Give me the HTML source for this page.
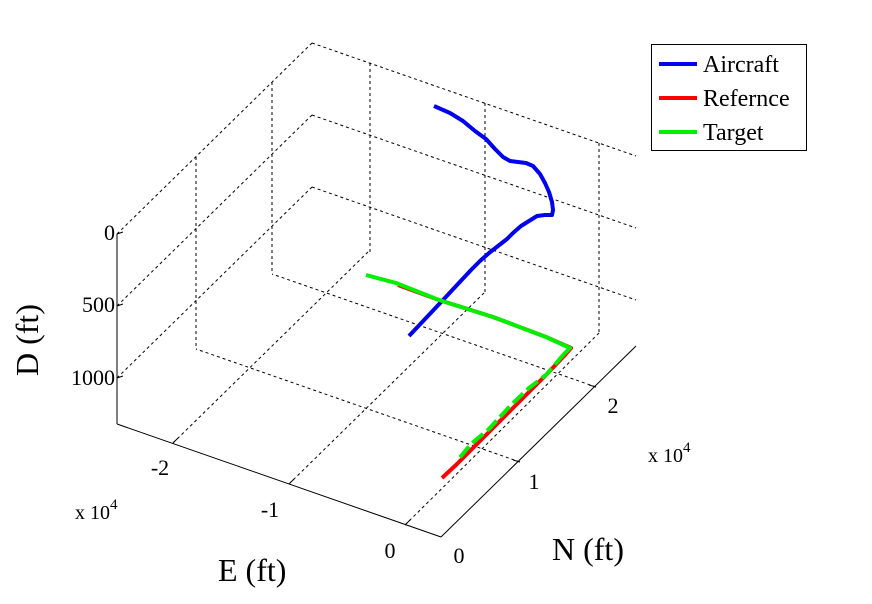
<!DOCTYPE html>
<html><head><style>html,body{margin:0;padding:0;background:#fff}svg{display:block}text{font-family:"Liberation Serif","Times New Roman",serif}</style></head>
<body>
<svg width="872" height="604" viewBox="0 0 872 604" xmlns="http://www.w3.org/2000/svg">
<g stroke="#000" stroke-width="1" stroke-dasharray="3,3" fill="none">
<line x1="117" y1="234" x2="312" y2="43"/>
<line x1="117" y1="306" x2="312" y2="115"/>
<line x1="117" y1="378" x2="312" y2="187"/>
<line x1="312" y1="43" x2="636" y2="156"/>
<line x1="312" y1="115" x2="636" y2="228"/>
<line x1="312" y1="187" x2="636" y2="300"/>
<line x1="196" y1="157" x2="196" y2="347"/>
<line x1="272" y1="82" x2="272" y2="272"/>
<line x1="370" y1="63" x2="370" y2="253"/>
<line x1="485" y1="103" x2="485" y2="293"/>
<line x1="599" y1="143" x2="599" y2="333"/>
<line x1="173" y1="443" x2="368" y2="252"/>
<line x1="289" y1="484" x2="484" y2="293"/>
<line x1="405" y1="525" x2="599" y2="333"/>
<line x1="520" y1="462" x2="196" y2="349"/>
<line x1="596" y1="387" x2="272" y2="274"/>
</g>
<g stroke="#000" stroke-width="1" fill="none">
<line x1="117" y1="234" x2="117" y2="424"/>
<line x1="117" y1="424" x2="441" y2="537"/>
<line x1="441" y1="537" x2="636" y2="346"/>
<line x1="117" y1="234" x2="123" y2="232"/>
<line x1="117" y1="306" x2="123" y2="304"/>
<line x1="117" y1="378" x2="123" y2="376"/>
<line x1="173" y1="443" x2="178" y2="438"/>
<line x1="289" y1="484" x2="294" y2="479"/>
<line x1="405" y1="525" x2="410" y2="520"/>
<line x1="520" y1="462" x2="513" y2="460"/>
<line x1="596" y1="387" x2="589" y2="385"/>
</g>
<g fill="none" stroke-linejoin="round" stroke-linecap="butt" stroke-width="4">
<polyline stroke="#0000ee" points="434,106 450,113 463,121 475,131 486,139 495,149 503,157 510,161 518,162 526,163 533,166 540,174 545,183 549,192 552,202 553,210 552,215 545,215 537,216 529,221 521,226 513,233 507,239 498,246 489,253 480,261 471,270 457,285 443,300 426,318 409,336"/>
<polyline stroke="#ff0000" points="398,285 439,300 493,317 546,337 571,348 564,356 546,375 529,392 511,410 489,432 471,450 457,464 442,478"/>
<polyline stroke="#00ee00" points="366,275 396,283 439,300 493,317 546,337 570,348 564,354"/>
<polyline stroke="#00ee00" stroke-dasharray="14,5" points="564,354 546,375 529,388 511,405 489,429 471,444 457,461"/>
</g>
<g font-size="22" fill="#000">
<text x="115" y="240" text-anchor="end">0</text>
<text x="115" y="312" text-anchor="end">500</text>
<text x="115" y="385" text-anchor="end">1000</text>
<text x="160" y="475" text-anchor="middle">-2</text>
<text x="270" y="517" text-anchor="middle">-1</text>
<text x="390" y="558" text-anchor="middle">0</text>
<text x="459" y="563" text-anchor="middle">0</text>
<text x="534" y="489" text-anchor="middle">1</text>
<text x="613" y="413" text-anchor="middle">2</text>
<text x="75" y="519" font-size="20">x 10<tspan font-size="15" dy="-10">4</tspan></text>
<text x="648" y="462" font-size="20">x 10<tspan font-size="15" dy="-10">4</tspan></text>
</g>
<g font-size="32" fill="#000">
<text x="218" y="581">E (ft)</text>
<text x="552" y="560">N (ft)</text>
<text transform="translate(38,340) rotate(-90)" text-anchor="middle">D (ft)</text>
</g>
<rect x="651.5" y="44.5" width="155" height="106" fill="#fff" stroke="#000"/>
<g stroke-width="4">
<line x1="659" y1="64" x2="697" y2="64" stroke="#0000ee"/>
<line x1="659" y1="98" x2="697" y2="98" stroke="#ff0000"/>
<line x1="659" y1="132" x2="697" y2="132" stroke="#00ee00"/>
</g>
<g font-size="24" fill="#000">
<text x="703" y="72">Aircraft</text>
<text x="703" y="106">Refernce</text>
<text x="703" y="140">Target</text>
</g>
</svg>
</body></html>
